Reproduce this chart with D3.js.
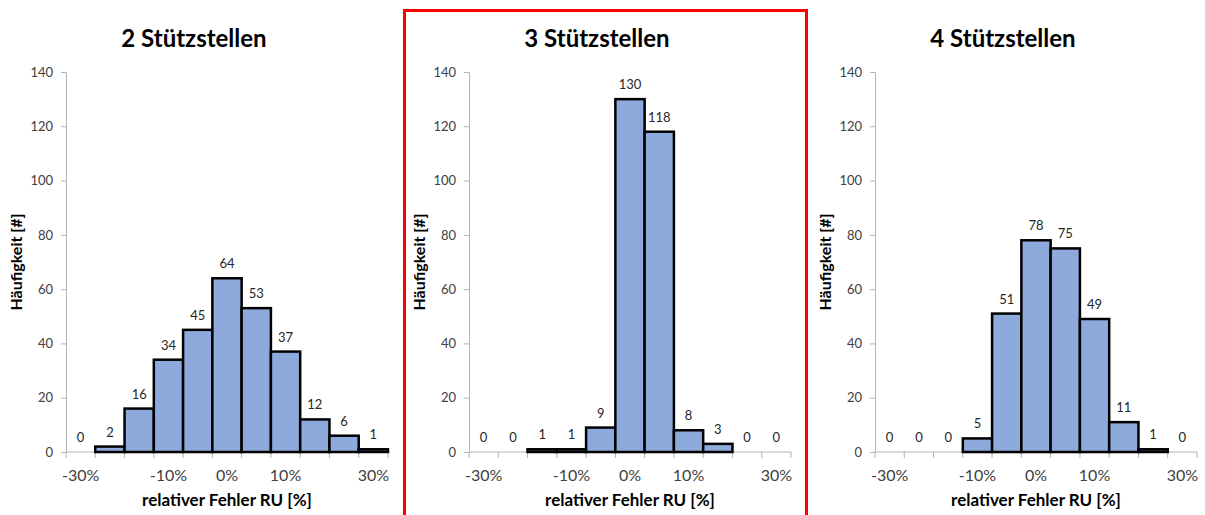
<!DOCTYPE html>
<html>
<head>
<meta charset="utf-8">
<script src="https://d3js.org/d3.v7.min.js"></script>
<style>
  body { margin: 0; background: #fff; }
  text { font-family: Lato, "Open Sans", sans-serif; }
</style>
</head>
<body>
<script>
// x categories (only some of them carry a label, like in the sheet)
var binLabels = ["-30%", "", "", "-10%", "", "0%", "", "10%", "", "", "30%"];

var titles = ["2 Stützstellen", "3 Stützstellen", "4 Stützstellen"];

var counts2 = [0, 2, 16, 34, 45, 64, 53, 37, 12, 6, 1];
var counts3 = [0, 0, 1, 1, 9, 130, 118, 8, 3, 0, 0];
var counts4 = [0, 0, 0, 5, 51, 78, 75, 49, 11, 1, 0];

var yTicks = [0, 20, 40, 60, 80, 100, 120, 140];

var xTitle = "relativer Fehler RU [%]",
    yTitle = "Häufigkeit [#]";

var width = 1205,
    height = 515;

var panels = [
    {title: titles[0], counts: counts2, left: 66},
    {title: titles[1], counts: counts3, left: 469},
    {title: titles[2], counts: counts4, left: 875}
];

var plotW = 322,
    plotTop = 72,
    plotBottom = 452;

var svg = d3.select("body").append("svg")
    .attr("width", width)
    .attr("height", height);

svg.append("rect")
    .attr("width", width)
    .attr("height", height)
    .attr("fill", "#fff");

// red frame round the middle chart
svg.append("rect")
    .attr("x", 404.5)
    .attr("y", 10.5)
    .attr("width", 402)
    .attr("height", 520)
    .attr("fill", "none")
    .attr("stroke", "#ff0000")
    .attr("stroke-width", 3);

var y = d3.scaleLinear()
    .domain([0, 140])
    .range([plotBottom, plotTop]);

panels.forEach(function(p) {
    var g = svg.append("g")
        .attr("transform", "translate(" + p.left + ",0)");

    var x = d3.scaleBand()
        .domain(d3.range(binLabels.length))
        .range([0, plotW])
        .padding(0);

    var bins = p.counts.map(function(v, i) {
        return {i: i, v: v};
    });

    // y axis
    var yAxis = g.append("g")
        .call(d3.axisLeft(y).tickValues(yTicks).tickSize(5).tickPadding(8));
    yAxis.select(".domain").attr("stroke", "#b3b3b3");
    yAxis.selectAll(".tick line").attr("stroke", "#b3b3b3");
    yAxis.selectAll(".tick text")
        .attr("fill", "#404040")
        .style("font-size", "13px");

    // x axis: ticks between categories
    var xa = g.append("g")
        .attr("transform", "translate(0," + plotBottom + ")");
    xa.append("line")
        .attr("x1", 0)
        .attr("x2", plotW)
        .attr("stroke", "#b3b3b3");
    xa.selectAll("line.tk")
        .data(d3.range(binLabels.length + 1))
        .enter().append("line")
        .attr("class", "tk")
        .attr("x1", function(d) { return d * x.bandwidth(); })
        .attr("x2", function(d) { return d * x.bandwidth(); })
        .attr("y1", 0)
        .attr("y2", 6)
        .attr("stroke", "#b3b3b3");
    xa.selectAll("text")
        .data(binLabels)
        .enter().append("text")
        .attr("x", function(d, i) { return x(i) + x.bandwidth() / 2; })
        .attr("y", 29)
        .attr("text-anchor", "middle")
        .attr("fill", "#404040")
        .style("font-size", "16px")
        .text(function(d) { return d; });

    // bars (empty bins are not drawn)
    g.selectAll("rect.bar")
        .data(bins.filter(function(d) { return d.v > 0; }))
        .enter().append("rect")
        .attr("class", "bar")
        .attr("x", function(d) { return x(d.i); })
        .attr("y", function(d) { return y(d.v); })
        .attr("width", x.bandwidth())
        .attr("height", function(d) { return plotBottom - y(d.v); })
        .style("fill", "#8eaadc")
        .style("stroke", "black")
        .style("stroke-width", "2.5");

    // value labels
    g.selectAll("text.val")
        .data(bins)
        .enter().append("text")
        .attr("class", "val")
        .attr("x", function(d) { return x(d.i) + x.bandwidth() / 2; })
        .attr("y", function(d) { return y(d.v) - 10; })
        .attr("text-anchor", "middle")
        .attr("fill", "#262626")
        .style("font-size", "13px")
        .text(function(d) { return d.v; });

    // titles
    g.append("text")
        .attr("x", 128)
        .attr("y", 47)
        .attr("text-anchor", "middle")
        .style("font-size", "24px")
        .style("font-weight", "bold")
        .text(p.title);

    g.append("text")
        .attr("x", plotW / 2)
        .attr("y", 506)
        .attr("text-anchor", "middle")
        .style("font-size", "17px")
        .style("font-weight", "bold")
        .text(xTitle);

    g.append("text")
        .attr("transform", "translate(-44," + (plotTop + plotBottom) / 2 + ") rotate(-90)")
        .attr("text-anchor", "middle")
        .style("font-size", "16px")
        .style("font-weight", "bold")
        .text(yTitle);
});
</script>
</body>
</html>
